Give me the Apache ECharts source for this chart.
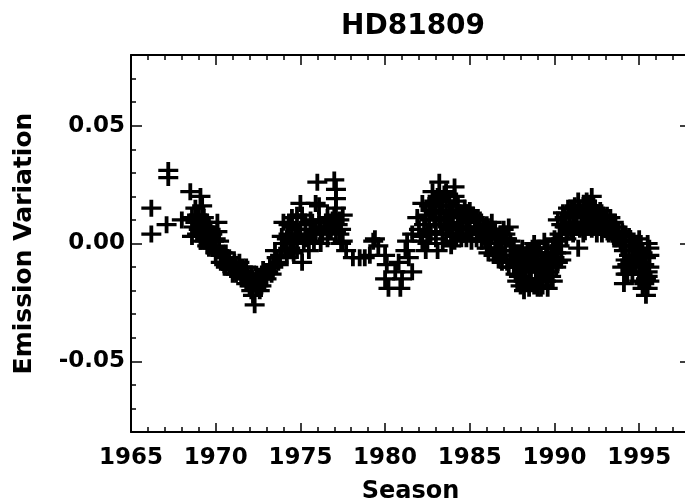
<!DOCTYPE html>
<html>
<head>
<meta charset="utf-8">
<script src="https://cdn.jsdelivr.net/npm/echarts@6/dist/echarts.min.js"></script>
<style>
  html, body { margin: 0; padding: 0; background: #fff; }
  #chart { width: 685px; height: 503px; }
</style>
</head>
<body>
<div id="chart"></div>
<script>
// tick labels
const majorYears = [1965, 1970, 1975, 1980, 1985, 1990, 1995]
const minorYears = [1966, 1967, 1968, 1969, 1971, 1972, 1973, 1974, 1976, 1977, 1978, 1979,
  1981, 1982, 1983, 1984, 1986, 1987, 1988, 1989, 1991, 1992, 1993, 1994, 1996, 1997]
const majorLevels = [-0.05, 0, 0.05]
const minorLevels = [-0.07, -0.06, -0.04, -0.03, -0.02, -0.01, 0.01, 0.02, 0.03, 0.04, 0.06, 0.07]

// [season, emission variation]
const early = [
  [1966.2, 0.015], [1966.2, 0.004], [1967.1, 0.008], [1967.2, 0.031], [1967.2, 0.028]
]
const cycle20Decline = [
  [1968.0, 0.010], [1968.5, 0.022], [1968.6, 0.011], [1968.7, 0.007], [1968.9, 0.012],
  [1968.9, 0.004], [1969.1, 0.020], [1969.2, 0.016], [1969.1, 0.009], [1969.3, 0.005],
  [1969.3, 0.011], [1969.4, 0.002], [1969.6, 0.007], [1969.6, -0.002], [1969.8, 0.004],
  [1969.8, -0.002], [1970.1, 0.009], [1970.1, 0.005], [1970.0, -0.004], [1970.2, -0.003],
  [1970.3, -0.008], [1970.5, -0.006], [1970.6, -0.010], [1970.8, -0.006], [1970.9, -0.011],
  [1971.1, -0.008], [1971.2, -0.013], [1971.4, -0.008], [1971.5, -0.014], [1971.7, -0.012],
  [1971.8, -0.017], [1972.0, -0.015], [1972.1, -0.020], [1972.2, -0.016], [1972.3, -0.026],
  [1972.4, -0.019], [1972.6, -0.014], [1972.7, -0.018], [1972.8, -0.011],
  [1968.8, 0.009], [1969.0, 0.006], [1969.2, 0.003], [1969.5, 0.009], [1969.7, 0.002],
  [1969.9, 0.001], [1970.0, 0.002], [1970.4, -0.004], [1970.5, -0.009], [1970.7, -0.008],
  [1971.0, -0.010], [1971.3, -0.011], [1971.6, -0.010], [1971.9, -0.013], [1972.1, -0.013],
  [1972.3, -0.017], [1972.5, -0.016], [1972.9, -0.014],
  [1968.6, 0.003], [1968.8, 0.015], [1969.0, 0.012], [1969.1, 0.001], [1969.4, 0.007],
  [1969.5, -0.001], [1969.7, 0.006], [1970.2, 0.001], [1970.3, -0.005], [1970.6, -0.004],
  [1970.8, -0.009], [1971.0, -0.013], [1971.2, -0.009], [1971.4, -0.012], [1971.6, -0.015],
  [1971.8, -0.010], [1972.0, -0.018], [1972.2, -0.022], [1972.4, -0.013], [1972.6, -0.020],
  [1972.8, -0.015]
]
const cycle21Rise = [
  [1973.0, -0.015], [1973.2, -0.010], [1973.4, -0.010], [1973.6, -0.006], [1973.5, -0.003],
  [1973.9, -0.003], [1974.0, 0.009], [1974.2, 0.002], [1974.2, -0.006], [1974.5, 0.007],
  [1974.6, 0.001], [1974.8, 0.012], [1974.8, -0.003], [1975.0, 0.017], [1975.0, 0.006],
  [1975.1, -0.008], [1975.2, 0.000], [1975.5, -0.003], [1975.6, 0.004], [1975.9, 0.017],
  [1975.9, 0.005], [1976.0, 0.026], [1976.1, 0.010], [1976.2, 0.000], [1976.3, 0.004],
  [1976.6, 0.011], [1976.6, 0.002], [1976.9, 0.010], [1977.0, 0.027], [1977.1, 0.023],
  [1977.1, 0.019], [1977.1, 0.015], [1977.1, 0.005], [1977.2, 0.008], [1977.5, 0.012],
  [1977.5, 0.001], [1977.7, -0.003], [1978.1, -0.006], [1978.5, -0.006], [1978.8, -0.006],
  [1973.3, -0.013], [1973.7, -0.008], [1974.0, 0.000], [1974.3, 0.004], [1974.4, -0.002],
  [1974.7, 0.006], [1975.3, 0.008], [1975.4, 0.003], [1975.7, 0.009], [1976.4, 0.007],
  [1976.8, 0.005], [1977.3, 0.004], [1977.4, 0.006],
  [1973.1, -0.012], [1973.5, -0.009], [1973.8, -0.005], [1973.9, 0.003], [1974.1, -0.003],
  [1974.3, 0.008], [1974.5, 0.011], [1974.6, -0.004], [1974.9, 0.003], [1975.1, 0.012],
  [1975.3, 0.002], [1975.6, 0.010], [1975.8, 0.001], [1976.1, 0.016], [1976.2, 0.006],
  [1976.5, 0.009], [1976.7, 0.007], [1977.0, 0.012], [1977.3, 0.010], [1977.4, 0.000]
]
const cycle21Min = [
  [1979.3, 0.001], [1979.1, -0.005], [1979.4, 0.002], [1979.6, -0.001], [1980.0, -0.005],
  [1980.1, -0.009], [1980.0, -0.015], [1980.2, -0.019], [1980.6, -0.012], [1980.8, -0.008],
  [1980.9, -0.019], [1981.0, -0.015], [1981.2, -0.003], [1981.3, 0.001], [1981.4, -0.006],
  [1981.6, 0.004], [1981.6, -0.012]
]
const cycle21Max = [
  [1981.9, 0.011], [1982.2, 0.017], [1982.2, 0.001], [1982.4, -0.003], [1982.5, 0.004],
  [1982.6, 0.010], [1982.8, 0.022], [1982.9, 0.018], [1983.0, 0.008], [1983.1, -0.003],
  [1983.2, 0.026], [1983.3, 0.013], [1983.4, 0.004], [1983.5, 0.021], [1983.6, 0.016],
  [1983.7, 0.011], [1983.8, 0.006], [1983.9, -0.001], [1984.1, 0.024], [1984.2, 0.018],
  [1984.3, 0.012], [1984.4, 0.007], [1984.5, 0.002], [1984.7, 0.015], [1984.8, 0.010],
  [1984.8, 0.002], [1985.0, 0.014], [1985.2, 0.012], [1985.3, 0.007], [1985.5, 0.004],
  [1985.7, 0.001], [1985.9, 0.007], [1986.0, -0.002], [1986.3, 0.009], [1986.3, 0.003],
  [1986.5, -0.002], [1986.7, 0.002], [1986.9, -0.008], [1987.0, 0.006], [1987.1, -0.003],
  [1987.3, 0.007], [1987.3, -0.010], [1987.5, -0.003], [1987.7, -0.013], [1987.8, -0.009],
  [1988.0, -0.018], [1988.1, -0.002],
  [1982.0, 0.006], [1982.3, 0.008], [1982.7, 0.005], [1982.8, 0.014], [1983.0, 0.013],
  [1983.2, 0.018], [1983.3, 0.008], [1983.5, 0.010], [1983.6, 0.004], [1983.8, 0.018],
  [1984.0, 0.014], [1984.0, 0.008], [1984.2, 0.003], [1984.4, 0.013], [1984.6, 0.009],
  [1984.9, 0.006], [1985.1, 0.004], [1985.4, 0.010], [1985.6, 0.007], [1985.8, 0.004],
  [1986.1, 0.005], [1986.2, 0.000], [1986.5, 0.006], [1986.6, -0.004], [1986.8, 0.000],
  [1987.0, -0.005], [1987.2, 0.002], [1987.4, -0.007], [1987.6, -0.001], [1987.9, -0.005],
  [1987.9, -0.014],
  [1982.1, 0.003], [1982.4, 0.012], [1982.5, 0.000], [1982.6, 0.016], [1982.9, 0.010],
  [1983.0, 0.002], [1983.1, 0.020], [1983.2, 0.011], [1983.4, 0.016], [1983.4, 0.000],
  [1983.6, 0.022], [1983.7, 0.007], [1983.9, 0.013], [1983.9, 0.004], [1984.1, 0.020],
  [1984.1, 0.001], [1984.3, 0.016], [1984.5, 0.011], [1984.6, 0.004], [1984.7, 0.012],
  [1984.9, 0.013], [1985.0, 0.009], [1985.1, 0.001], [1985.3, 0.011], [1985.4, 0.002],
  [1985.6, 0.010], [1985.7, 0.004], [1985.9, 0.002], [1986.0, 0.008], [1986.1, -0.004],
  [1986.3, 0.006], [1986.4, -0.005], [1986.6, 0.003], [1986.7, -0.007], [1986.8, 0.004],
  [1986.9, -0.003], [1987.1, 0.004], [1987.2, -0.008], [1987.4, 0.001], [1987.6, -0.010],
  [1987.7, -0.005], [1987.8, -0.016], [1988.0, -0.010]
]
const cycle22Min = [
  [1988.2, -0.020], [1988.3, -0.010], [1988.4, -0.004], [1988.6, -0.016], [1988.7, -0.007],
  [1988.8, 0.000], [1989.0, -0.019], [1989.0, -0.012], [1989.2, -0.005], [1989.3, -0.018],
  [1989.4, 0.001], [1989.5, -0.010], [1989.6, -0.014], [1989.8, -0.004], [1989.9, -0.009],
  [1990.0, 0.002], [1990.1, -0.004], [1990.3, -0.001], [1990.3, 0.004],
  [1988.2, -0.015], [1988.3, -0.006], [1988.5, -0.012], [1988.5, -0.019], [1988.7, -0.002],
  [1988.9, -0.015], [1988.9, -0.008], [1989.1, -0.016], [1989.1, -0.002], [1989.3, -0.009],
  [1989.4, -0.013], [1989.5, -0.004], [1989.6, -0.019], [1989.7, -0.008], [1989.8, -0.014],
  [1990.0, -0.006], [1990.2, -0.008], [1990.4, -0.004],
  [1988.1, -0.006], [1988.3, -0.017], [1988.4, -0.008], [1988.6, -0.004], [1988.6, -0.011],
  [1988.8, -0.018], [1988.8, -0.005], [1989.0, -0.004], [1989.0, -0.008], [1989.2, -0.012],
  [1989.2, -0.019], [1989.4, -0.007], [1989.5, -0.016], [1989.6, -0.002], [1989.7, -0.012],
  [1989.9, -0.002], [1989.9, -0.016], [1990.1, -0.010], [1990.2, 0.001], [1990.4, -0.007],
  [1990.4, 0.002]
]
const cycle22Max = [
  [1990.2, 0.010], [1990.6, 0.007], [1990.8, 0.005], [1990.9, 0.012], [1991.2, 0.009],
  [1991.4, 0.018], [1991.4, -0.002], [1991.6, 0.012], [1991.8, 0.014], [1991.8, 0.005],
  [1992.0, 0.009], [1992.1, 0.010], [1992.2, 0.020], [1992.4, 0.015], [1992.5, 0.004],
  [1992.7, 0.007], [1992.8, 0.011], [1993.1, 0.012], [1993.2, 0.004], [1993.5, 0.009],
  [1993.6, 0.002], [1993.9, 0.001], [1994.0, 0.005], [1994.1, -0.003], [1994.1, -0.017],
  [1994.3, -0.009], [1994.4, 0.003], [1994.3, -0.013], [1994.6, -0.005], [1995.0, 0.002],
  [1995.1, -0.008], [1995.2, -0.013], [1995.3, -0.017], [1995.5, 0.000], [1995.5, -0.012],
  [1995.4, -0.022], [1995.6, -0.005],
  [1990.5, 0.013], [1990.7, 0.002], [1990.9, 0.008], [1991.0, 0.015], [1991.1, 0.004],
  [1991.3, 0.013], [1991.5, 0.006], [1991.7, 0.016], [1991.9, 0.011], [1992.0, 0.016],
  [1992.3, 0.008], [1992.4, 0.012], [1992.6, 0.010], [1992.9, 0.006], [1993.0, 0.009],
  [1993.3, 0.008], [1993.4, 0.005], [1993.7, 0.005], [1994.2, 0.001], [1994.2, -0.007],
  [1994.5, -0.010], [1994.7, -0.001], [1994.9, -0.006], [1995.0, -0.012], [1995.2, -0.004],
  [1995.3, -0.009], [1995.4, -0.015], [1995.6, -0.010], [1995.5, -0.019],
  [1990.4, 0.008], [1990.6, 0.011], [1990.8, 0.015], [1991.0, 0.006], [1991.1, 0.011],
  [1991.2, 0.016], [1991.3, 0.007], [1991.5, 0.015], [1991.6, 0.008], [1991.7, 0.004],
  [1991.9, 0.018], [1991.9, 0.007], [1992.1, 0.013], [1992.2, 0.006], [1992.3, 0.016],
  [1992.5, 0.013], [1992.6, 0.007], [1992.7, 0.014], [1992.8, 0.004], [1993.0, 0.011],
  [1993.1, 0.006], [1993.3, 0.011], [1993.5, 0.003], [1993.6, 0.007], [1993.8, 0.003],
  [1994.0, -0.001], [1994.0, -0.010], [1994.2, 0.004], [1994.2, -0.013], [1994.4, -0.005],
  [1994.5, 0.001], [1994.6, -0.013], [1994.8, -0.009], [1994.9, -0.003], [1995.0, -0.016],
  [1995.1, 0.000], [1995.2, -0.019], [1995.4, -0.006], [1995.5, -0.014], [1995.6, -0.002],
  [1995.6, -0.016]
]

const FONT = 'DejaVu Sans'
const plus = 'path://M8.1,0h3.8v8.1h8.1v3.8h-8.1v8.1h-3.8v-8.1h-8.1v-3.8h8.1z'

const chart = echarts.init(document.getElementById('chart'))

// overlay axis without line or labels, only draws tick marks
function tickAxis(extra) {
  return Object.assign({
    type: 'value',
    axisLine: { show: false, onZero: false },
    axisLabel: { show: false },
    splitLine: { show: false }
  }, extra)
}

const tickStyle = { color: '#000', width: 1.5 }

chart.setOption({
  animation: false,
  backgroundColor: '#fff',
  title: {
    text: 'HD81809',
    left: 336,
    top: 8,
    textStyle: { fontFamily: FONT, fontWeight: 'bold', fontSize: 28, color: '#000' }
  },
  // the frame runs past the right edge of the picture
  grid: { left: 131, width: 559, top: 55, bottom: 71, outerBoundsMode: 'none' },
  xAxis: [
    {
      type: 'value', min: 1965, max: 1998, position: 'bottom',
      name: 'Season', nameLocation: 'middle', nameGap: 48,
      nameTextStyle: { fontFamily: FONT, fontWeight: 'bold', fontSize: 24, color: '#000' },
      axisLine: { onZero: false, lineStyle: { color: '#000', width: 2 } },
      axisTick: { inside: true, length: 9, customValues: majorYears, lineStyle: tickStyle },
      axisLabel: {
        customValues: majorYears, margin: 15,
        fontFamily: FONT, fontWeight: 'bold', fontSize: 23, color: '#000',
        formatter: v => String(v)
      },
      splitLine: { show: false }
    },
    {
      type: 'value', min: 1965, max: 1998, position: 'top',
      axisLine: { onZero: false, lineStyle: { color: '#000', width: 2 } },
      axisTick: { inside: true, length: 10, customValues: majorYears, lineStyle: tickStyle },
      axisLabel: { show: false },
      splitLine: { show: false }
    },
    tickAxis({ min: 1965, max: 1998, position: 'bottom',
      axisTick: { inside: true, length: 5, customValues: minorYears, lineStyle: tickStyle } }),
    tickAxis({ min: 1965, max: 1998, position: 'top',
      axisTick: { inside: true, length: 5, customValues: minorYears, lineStyle: tickStyle } })
  ],
  yAxis: [
    {
      type: 'value', min: -0.08, max: 0.08, position: 'left',
      name: 'Emission Variation', nameLocation: 'middle', nameRotate: 90, nameGap: 94,
      nameTextStyle: { fontFamily: FONT, fontWeight: 'bold', fontSize: 25, color: '#000' },
      axisLine: { onZero: false, lineStyle: { color: '#000', width: 2 } },
      axisTick: { inside: true, length: 11, customValues: majorLevels, lineStyle: tickStyle },
      axisLabel: {
        customValues: majorLevels, margin: 6,
        fontFamily: FONT, fontWeight: 'bold', fontSize: 23, color: '#000',
        formatter: v => v.toFixed(2)
      },
      splitLine: { show: false }
    },
    {
      type: 'value', min: -0.08, max: 0.08, position: 'right',
      axisLine: { onZero: false, lineStyle: { color: '#000', width: 2 } },
      axisTick: { inside: true, length: 10, customValues: majorLevels, lineStyle: tickStyle },
      axisLabel: { show: false },
      splitLine: { show: false }
    },
    tickAxis({ min: -0.08, max: 0.08, position: 'left',
      axisTick: { inside: true, length: 5, customValues: minorLevels, lineStyle: tickStyle } }),
    tickAxis({ min: -0.08, max: 0.08, position: 'right',
      axisTick: { inside: true, length: 5, customValues: minorLevels, lineStyle: tickStyle } })
  ],
  series: [{
    type: 'scatter',
    xAxisIndex: 0,
    yAxisIndex: 0,
    symbol: plus,
    symbolSize: [20, 17],
    itemStyle: { color: '#000', opacity: 1 },
    emphasis: { disabled: true },
    data: [].concat(early, cycle20Decline, cycle21Rise, cycle21Min, cycle21Max, cycle22Min, cycle22Max)
  }]
})
</script>
</body>
</html>
